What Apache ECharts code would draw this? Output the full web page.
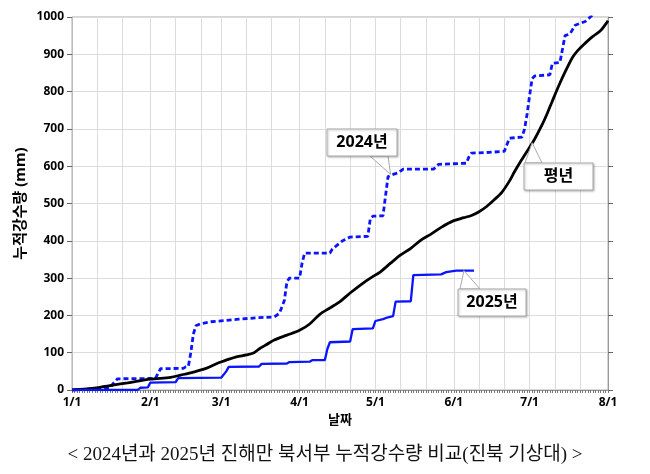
<!DOCTYPE html>
<html>
<head>
<meta charset="utf-8">
<title>누적강수량 비교</title>
<script src="https://cdn.jsdelivr.net/npm/echarts@6/dist/echarts.min.js"></script>
<style>
    html, body { margin: 0; padding: 0; background: #fff; }
    #main { width: 650px; height: 474px; }
</style>
</head>
<body>
<div id="main"></div>
<script type="text/javascript">
// 날짜 축 (1/1 ~ 8/1, 일 단위)
var monthLengths = [31, 28, 31, 30, 31, 30, 31];
var monthLabels = ['1/1', '2/1', '3/1', '4/1', '5/1', '6/1', '7/1', '8/1'];

// 평년 누적강수량 [일차, mm]
var avgData = [
    [0, 0], [8, 4], [15, 12], [22, 19], [31, 29], [39, 34], [43, 40], [48, 48],
    [53, 58], [58, 73], [61, 80], [65, 89], [69, 94], [72, 100], [74, 110], [77, 122],
    [80, 134], [85, 147], [90, 160], [94, 177], [98, 203], [102, 220], [106, 237],
    [110, 260], [115, 286], [118, 300], [122, 317], [126, 340], [130, 362], [134, 380],
    [138, 402], [142, 418], [146, 436], [151, 454], [155, 462], [158, 468], [161, 478],
    [164, 492], [167, 510], [170, 530], [173, 560], [175, 585], [177, 608], [180, 640],
    [183, 673], [186, 712], [188, 742], [190, 775], [193, 823], [196, 866], [198, 892],
    [200, 910], [203, 930], [206, 948], [209, 963], [211, 980], [212, 990]
];

// 2024년 누적강수량
var y2024Data = [
    [0, 0], [12, 3], [15, 5], [16, 15], [18, 30], [33, 31], [35, 57], [44, 58],
    [45, 62], [46, 63], [47, 100], [48, 150], [49, 172], [51, 178], [55, 183],
    [60, 186], [66, 190], [74, 194], [80, 196], [82, 205], [84, 240], [85, 290],
    [86, 300], [90, 300], [91, 340], [92, 367], [102, 367], [103, 378], [105, 389],
    [107, 400], [110, 410], [117, 412], [118, 460], [119, 466], [123, 467], [124, 520],
    [125, 572], [127, 578], [129, 582], [131, 592], [143, 592], [145, 605], [156, 608],
    [157, 625], [158, 635], [165, 637], [171, 640], [173, 675], [178, 678], [179, 700],
    [180, 740], [181, 790], [182, 835], [183, 842], [189, 845], [190, 876], [193, 878],
    [195, 950], [197, 955], [199, 978], [203, 988], [205, 1000], [207, 1012]
];

// 2025년 누적강수량
var y2025Data = [
    [0, 0], [26, 0], [27, 6], [30, 7], [31, 20], [41, 21], [42, 32], [59, 33],
    [61, 50], [62, 62], [74, 63], [75, 70], [85, 71], [86, 75], [94, 76], [95, 80],
    [100, 80], [101, 110], [102, 128], [110, 130], [111, 163], [119, 165], [120, 185],
    [123, 190], [125, 195], [127, 198], [128, 237], [134, 238], [135, 308], [146, 310],
    [148, 316], [152, 320], [159, 320]
];

// 말풍선: 글자, 상자 위치, 가리키는 자료점
var callouts = [
    { text: '2024년', box: [327, 129, 70, 27], base: [[370, 156], [388, 156]], tip: [126, 578] },
    { text: '평년', box: [524, 163, 69, 27], base: [[525, 163], [542, 163]], tip: [182, 663] },
    { text: '2025년', box: [458, 289, 68, 27], base: [[460, 289], [480, 289]], tip: [155, 320] }
];

// 날짜 카테고리 만들기
var categories = [];
var monthStart = [];
var dekadStart = {};
var d = 0;
for (var m = 0; m < monthLengths.length; m++) {
    monthStart.push(d);
    for (var k = 0; k < monthLengths[m]; k++) {
        categories.push((m + 1) + '/' + (k + 1));
        if (k == 0 || k == 10 || k == 20) dekadStart[d] = true;
        d++;
    }
}
monthStart.push(d);
dekadStart[d] = true;
categories.push('8/1');

var labelOf = {};
for (var i = 0; i < monthStart.length; i++) {
    labelOf[monthStart[i]] = monthLabels[i];
}

var boldFont = '"Noto Sans", "Noto Sans CJK KR", sans-serif';

var myChart = echarts.init(document.getElementById('main'));

var option = {
    animation: false,
    backgroundColor: '#fff',
    title: {
        text: '< 2024년과 2025년 진해만 북서부 누적강수량 비교(진북 기상대) >',
        left: 'center',
        top: 441,
        textStyle: {
            fontFamily: '"Liberation Serif", "Noto Sans CJK KR", serif',
            fontWeight: 'normal',
            fontSize: 19,
            color: '#111'
        }
    },
    grid: {
        left: 72,
        right: 42,
        top: 17,
        bottom: 84,
        show: true,
        borderColor: '#aaa',
        borderWidth: 1
    },
    xAxis: {
        type: 'category',
        data: categories,
        boundaryGap: false,
        name: '날짜',
        nameLocation: 'middle',
        nameGap: 24,
        nameTextStyle: { fontFamily: boldFont, fontWeight: 'bold', fontSize: 13, color: '#000' },
        axisLine: { lineStyle: { color: '#999', width: 1 } },
        axisTick: { show: true, interval: 0, length: 3, lineStyle: { color: '#777' } },
        axisLabel: {
            interval: function (index) { return labelOf[index] !== undefined; },
            formatter: function (value, index) { return labelOf[index] || ''; },
            fontFamily: boldFont,
            fontWeight: 'bold',
            fontSize: 12,
            color: '#000',
            margin: 7
        },
        splitLine: {
            show: true,
            interval: function (index) { return dekadStart[index] === true; },
            lineStyle: { color: '#dcdcdc', width: 1 }
        }
    },
    yAxis: [
        {
            type: 'value',
            min: 0,
            max: 1000,
            interval: 100,
            name: '누적강수량 (mm)',
            nameLocation: 'middle',
            nameGap: 44,
            nameMoveOverlap: false,
            nameRotate: 90,
            nameTextStyle: { fontFamily: boldFont, fontWeight: 'bold', fontSize: 15, color: '#000' },
            axisLine: { show: true, lineStyle: { color: '#bbb' } },
            axisTick: { show: true, length: 5, lineStyle: { color: '#666' } },
            axisLabel: {
                formatter: function (v) { return String(v); },
                fontFamily: boldFont, fontWeight: 'bold', fontSize: 12, color: '#000', margin: 8
            },
            splitLine: { show: true, lineStyle: { color: '#dcdcdc', width: 1 } }
        },
        {
            type: 'value',
            min: 0,
            max: 1000,
            interval: 100,
            position: 'right',
            axisLine: { show: true, lineStyle: { color: '#999' } },
            axisTick: { show: true, length: 5, lineStyle: { color: '#666' } },
            axisLabel: { show: false },
            splitLine: { show: false }
        }
    ],
    series: [
        {
            name: '2024년',
            type: 'line',
            data: y2024Data,
            showSymbol: false,
            clip: true,
            lineStyle: { color: '#0a14ff', width: 2.8, type: [5, 3] },
            z: 3
        },
        {
            name: '평년',
            type: 'line',
            data: avgData,
            showSymbol: false,
            smooth: 0.3,
            lineStyle: { color: '#000', width: 2.8 },
            z: 4
        },
        {
            name: '2025년',
            type: 'line',
            data: y2025Data,
            showSymbol: false,
            lineStyle: { color: '#0a14ff', width: 2.3 },
            z: 5
        }
    ]
};
myChart.setOption(option);

// 말풍선 그리기
var graphics = [];
for (var c = 0; c < callouts.length; c++) {
    var co = callouts[c];
    var tip = myChart.convertToPixel({ gridIndex: 0 }, co.tip);
    var b = co.box;
    graphics.push({
        type: 'polygon',
        shape: { points: [co.base[0], tip, co.base[1]] },
        style: { fill: '#fff', stroke: '#aaa', lineWidth: 1 },
        z: 100
    });
    graphics.push({
        type: 'rect',
        shape: { x: b[0], y: b[1], width: b[2], height: b[3] },
        style: {
            fill: '#fff', stroke: '#aaa', lineWidth: 1,
            shadowBlur: 2, shadowColor: 'rgba(0,0,0,0.25)', shadowOffsetX: 1, shadowOffsetY: 1
        },
        z: 101
    });
    graphics.push({
        type: 'text',
        x: b[0] + b[2] / 2,
        y: b[1] + b[3] / 2,
        style: {
            text: co.text,
            align: 'center',
            verticalAlign: 'middle',
            fontFamily: boldFont,
            fontWeight: 'bold',
            fontSize: 16,
            fill: '#000'
        },
        z: 102
    });
}
myChart.setOption({ graphic: graphics });
</script>
</body>
</html>
